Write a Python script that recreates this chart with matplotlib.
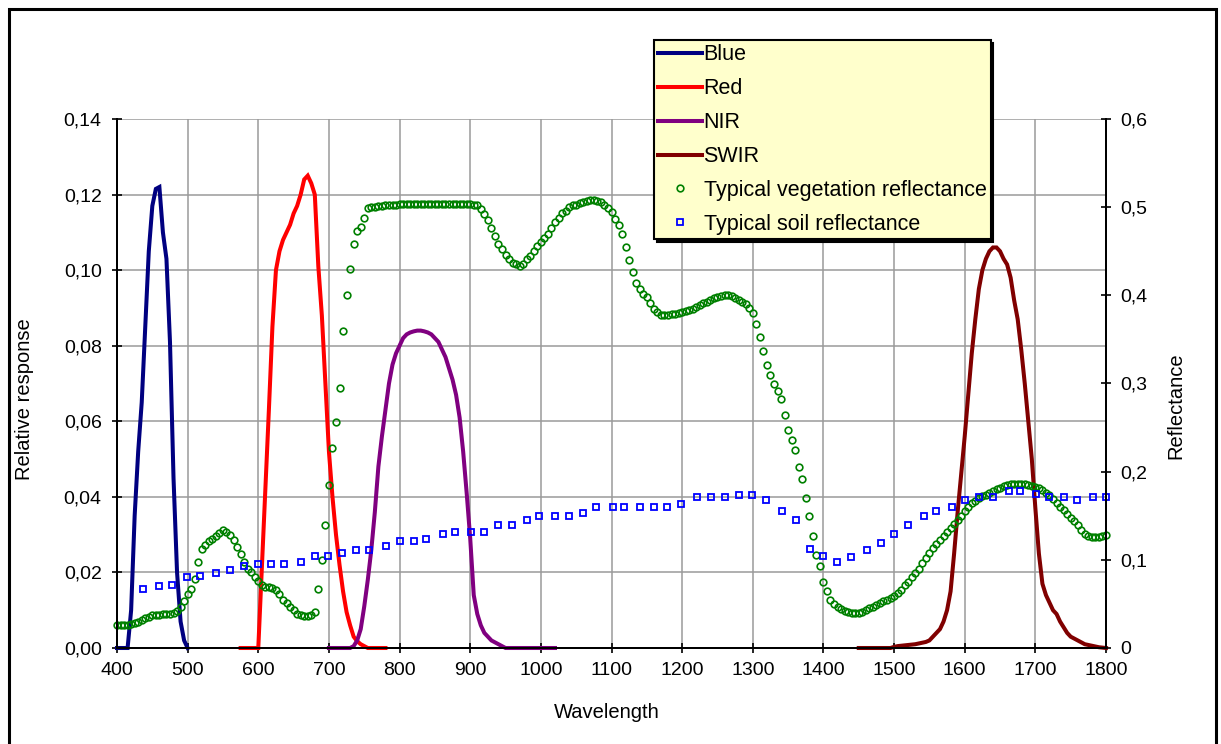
import numpy as np
import matplotlib
matplotlib.use('Agg')
import matplotlib.pyplot as plt
from matplotlib.patches import Rectangle
from matplotlib.ticker import FuncFormatter, MultipleLocator

plt.rcParams['font.family'] = ['Liberation Sans', 'DejaVu Sans']

# sensor band relative response, sampled every 5 nm
blue_wl = np.arange(400, 505, 5)
blue_resp = [0, 0, 0, 0, 0.010, 0.035, 0.052, 0.065, 0.085, 0.105,
             0.117, 0.1215, 0.122, 0.110, 0.103, 0.081, 0.045, 0.020, 0.007, 0.002,
             0]

red_wl = np.arange(575, 785, 5)
red_resp = [0, 0, 0, 0, 0, 0, 0.021, 0.042, 0.063, 0.085,
            0.100, 0.105, 0.108, 0.110, 0.112, 0.115, 0.117, 0.120, 0.124, 0.125,
            0.123, 0.120, 0.101, 0.088, 0.070, 0.052, 0.040, 0.030, 0.022, 0.015,
            0.0095, 0.006, 0.003, 0.0018, 0.001, 0.0005, 0, 0, 0, 0,
            0, 0]

nir_wl = np.arange(700, 1025, 5)
nir_resp = [0, 0, 0, 0, 0, 0, 0, 0.0005, 0.002, 0.005,
            0.011, 0.018, 0.026, 0.036, 0.048, 0.056, 0.063, 0.070, 0.075, 0.078,
            0.080, 0.082, 0.083, 0.0835, 0.0838, 0.084, 0.084, 0.0838, 0.0835, 0.083,
            0.082, 0.081, 0.079, 0.077, 0.074, 0.071, 0.067, 0.061, 0.052, 0.041,
            0.029, 0.014, 0.009, 0.006, 0.004, 0.003, 0.002, 0.0015, 0.001, 0.0005,
            0, 0, 0, 0, 0, 0, 0, 0, 0, 0, 0, 0, 0, 0, 0]

swir_wl = np.arange(1450, 1805, 5)
swir_resp = [0, 0, 0, 0, 0, 0, 0, 0, 0, 0,
             0.0003, 0.0005, 0.0006, 0.0007, 0.0008, 0.0009, 0.001, 0.0012, 0.0014, 0.0016,
             0.002, 0.003, 0.004, 0.005, 0.007, 0.010, 0.015, 0.025, 0.036, 0.046,
             0.056, 0.067, 0.078, 0.087, 0.095, 0.100, 0.103, 0.105, 0.106, 0.106,
             0.105, 0.103, 0.1015, 0.098, 0.092, 0.087, 0.079, 0.070, 0.060, 0.050,
             0.037, 0.025, 0.017, 0.014, 0.012, 0.010, 0.009, 0.007, 0.0055, 0.004,
             0.003, 0.0025, 0.002, 0.0015, 0.001, 0.0008, 0.0006, 0.0004, 0.0002, 0.0001,
             0]

# reflectance spectra
veg_wl = np.arange(400, 1805, 5)
veg_refl = [
    0.026, 0.026, 0.026, 0.026, 0.027, 0.028, 0.030, 0.032, 0.034, 0.035,
    0.037, 0.037, 0.037, 0.038, 0.038, 0.039, 0.040, 0.042, 0.046, 0.053,
    0.061, 0.067, 0.078, 0.098, 0.112, 0.117, 0.121, 0.124, 0.127, 0.131,
    0.134, 0.132, 0.128, 0.122, 0.115, 0.107, 0.097, 0.090, 0.086, 0.080,
    0.076, 0.072, 0.069, 0.069, 0.068, 0.066, 0.061, 0.055, 0.051, 0.047,
    0.043, 0.039, 0.037, 0.036, 0.036, 0.037, 0.041, 0.067, 0.100, 0.140,
    0.185, 0.227, 0.256, 0.295, 0.360, 0.400, 0.430, 0.458, 0.473, 0.478,
    0.488, 0.499, 0.500, 0.500, 0.501, 0.501, 0.502, 0.502, 0.503, 0.503,
    0.504, 0.504, 0.504, 0.504, 0.504, 0.504, 0.504, 0.504, 0.504, 0.504,
    0.504, 0.504, 0.504, 0.504, 0.504, 0.504, 0.504, 0.504, 0.504, 0.504,
    0.504, 0.503, 0.502, 0.498, 0.492, 0.485, 0.476, 0.467, 0.458, 0.452,
    0.446, 0.441, 0.437, 0.435, 0.433, 0.436, 0.441, 0.445, 0.450, 0.456,
    0.460, 0.465, 0.469, 0.476, 0.483, 0.488, 0.493, 0.496, 0.500, 0.502,
    0.503, 0.505, 0.506, 0.507, 0.508, 0.508, 0.507, 0.506, 0.503, 0.499,
    0.494, 0.487, 0.480, 0.470, 0.455, 0.440, 0.426, 0.414, 0.407, 0.402,
    0.398, 0.391, 0.385, 0.381, 0.378, 0.378, 0.378, 0.379, 0.379, 0.380,
    0.381, 0.382, 0.383, 0.385, 0.387, 0.389, 0.391, 0.393, 0.395, 0.397,
    0.398, 0.399, 0.400, 0.400, 0.399, 0.397, 0.395, 0.393, 0.390, 0.386,
    0.380, 0.368, 0.353, 0.337, 0.321, 0.310, 0.300, 0.291, 0.282, 0.264,
    0.247, 0.236, 0.225, 0.205, 0.192, 0.170, 0.150, 0.127, 0.106, 0.093,
    0.075, 0.065, 0.055, 0.050, 0.047, 0.044, 0.042, 0.041, 0.040, 0.040,
    0.040, 0.041, 0.043, 0.045, 0.047, 0.049, 0.051, 0.053, 0.055, 0.057,
    0.059, 0.062, 0.066, 0.071, 0.075, 0.080, 0.085, 0.090, 0.096, 0.102,
    0.108, 0.113, 0.118, 0.123, 0.127, 0.132, 0.136, 0.141, 0.145, 0.150,
    0.155, 0.160, 0.164, 0.167, 0.170, 0.172, 0.174, 0.176, 0.178, 0.180,
    0.182, 0.184, 0.185, 0.186, 0.186, 0.186, 0.186, 0.186, 0.185, 0.184,
    0.183, 0.181, 0.179, 0.176, 0.173, 0.169, 0.165, 0.160, 0.156, 0.152,
    0.148, 0.144, 0.139, 0.134, 0.129, 0.127, 0.126, 0.126, 0.126, 0.127,
    0.128]

soil_wl = [437, 460, 478, 499, 518, 540, 560, 580, 599, 618,
           637, 661, 680, 699, 719, 738, 757, 781, 800, 820,
           838, 862, 878, 901, 920, 940, 959, 981, 997, 1020,
           1040, 1059, 1078, 1102, 1118, 1140, 1160, 1179, 1198, 1221,
           1241, 1261, 1280, 1299, 1319, 1342, 1361, 1381, 1400, 1419,
           1439, 1461, 1481, 1500, 1520, 1543, 1559, 1582, 1600, 1620,
           1640, 1662, 1678, 1701, 1720, 1740, 1759, 1782, 1800]
soil_refl = [0.067, 0.070, 0.071, 0.080, 0.082, 0.085, 0.088, 0.093, 0.095, 0.095,
             0.095, 0.098, 0.104, 0.104, 0.108, 0.111, 0.111, 0.116, 0.121, 0.121,
             0.124, 0.129, 0.132, 0.132, 0.132, 0.140, 0.140, 0.145, 0.150, 0.150,
             0.150, 0.153, 0.160, 0.160, 0.160, 0.160, 0.160, 0.160, 0.163, 0.171,
             0.171, 0.171, 0.174, 0.174, 0.168, 0.155, 0.145, 0.112, 0.104, 0.098,
             0.103, 0.111, 0.119, 0.129, 0.140, 0.150, 0.155, 0.160, 0.168, 0.171,
             0.171, 0.178, 0.178, 0.175, 0.171, 0.171, 0.168, 0.171, 0.171]

W, H = 1221, 744
fig = plt.figure(figsize=(W / 100, H / 100), dpi=100)
ax = fig.add_axes([117 / W, 1 - 648 / H, 989 / W, 529 / H])
ax2 = ax.twinx()

line_kw = dict(lw=2.9, clip_on=False, solid_joinstyle='miter')
ax.plot(blue_wl, blue_resp, color='#000080', label='Blue', **line_kw)
ax.plot(red_wl, red_resp, color='#FF0000', label='Red', **line_kw)
ax.plot(nir_wl, nir_resp, color='#800080', label='NIR', **line_kw)
ax.plot(swir_wl, swir_resp, color='#800000', label='SWIR', **line_kw)

ax2.plot(veg_wl, veg_refl, ls='none', marker='o', ms=4.8, mfc='none', mec='#008000',
         mew=1.2, clip_on=False, label='Typical vegetation reflectance')
ax2.plot(soil_wl, soil_refl, ls='none', marker='s', ms=4.6, mfc='none', mec='#0000FF',
         mew=1.3, clip_on=False, label='Typical soil reflectance')

ax.set_xlim(400, 1800)
ax.set_ylim(0, 0.14)
ax2.set_ylim(0, 0.6)
ax.xaxis.set_major_locator(MultipleLocator(100))
ax.yaxis.set_major_locator(MultipleLocator(0.02))
ax2.yaxis.set_major_locator(MultipleLocator(0.1))
ax.yaxis.set_major_formatter(FuncFormatter(lambda v, p: f'{v:.2f}'.replace('.', ',')))
ax2.yaxis.set_major_formatter(
    FuncFormatter(lambda v, p: '0' if abs(v) < 1e-9 else f'{v:.1f}'.replace('.', ',')))

ax.grid(True, color='#9a9a9a', lw=1.1)
ax.set_axisbelow(True)

for a in (ax, ax2):
    a.spines['top'].set_visible(False)
    for s in ('left', 'right', 'bottom'):
        a.spines[s].set_linewidth(1.4)
ax.tick_params(axis='y', direction='inout', length=7, width=1.2, labelsize=14, pad=7.5)
ax.tick_params(axis='x', direction='inout', length=7, width=1.2, labelsize=14, pad=6.5)
ax2.tick_params(axis='y', direction='inout', length=7, width=1.2, labelsize=14, pad=6.5)

ax.set_xlabel('Wavelength', fontsize=14.5)
ax.set_ylabel('Relative response', fontsize=14.5)
ax2.set_ylabel('Reflectance', fontsize=14.5)
ax.xaxis.set_label_coords(0.4955, -0.104)
ax.yaxis.set_label_coords(-0.084, 0.47)
ax2.yaxis.set_label_coords(1.0607, 0.459)

handles = ax.get_legend_handles_labels()[0] + ax2.get_legend_handles_labels()[0]
labels = [h.get_label() for h in handles]
leg = fig.legend(handles, labels, loc='upper left',
                 bbox_to_anchor=(654 / W, 1 - 40 / H), bbox_transform=fig.transFigure,
                 fontsize=15.5, numpoints=1, handlelength=2.05, handletextpad=0.05,
                 borderpad=0.2, labelspacing=0.6, borderaxespad=0, fancybox=False,
                 framealpha=1, facecolor='#FFFFCC', edgecolor='black',
                 shadow={'facecolor': 'black', 'edgecolor': 'black', 'alpha': 1})
leg.get_frame().set_linewidth(1.5)

# chart area border
fig.add_artist(Rectangle((9 / W, -0.1), (1216 - 9) / W, 1.1 - 9 / H,
                         transform=fig.transFigure, fill=False, ec='black', lw=2.2))

fig.savefig('out.png', dpi=100)
